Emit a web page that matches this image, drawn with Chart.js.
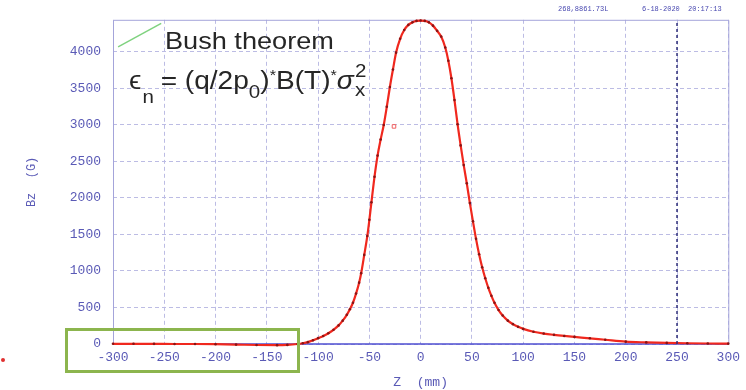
<!DOCTYPE html>
<html>
<head>
<meta charset="utf-8">
<script src="https://cdn.jsdelivr.net/npm/chart.js"></script>
<style>
  html, body { margin: 0; padding: 0; background: #fff; }
  #wrap { position: relative; width: 746px; height: 390px; overflow: hidden; }
  #wrap canvas { position: absolute; left: 0; top: 0; }
  .note { position: absolute; white-space: nowrap; color: #262626; font-family: 'Liberation Sans', Arial, sans-serif; transform-origin: 0 0; }
  .sm { position: relative; font-size: 19px; }
  .stamp { position: absolute; top: 5px; font: 7px 'Liberation Mono', monospace; color: #4848b0; white-space: nowrap; }
</style>
</head>
<body>
<div id="wrap">
  <canvas id="chart" width="746" height="390"></canvas>
  <div class="note" style="left:165px; top:29px; font-size:24px; line-height:24px; transform:scaleX(1.13);">Bush theorem</div>
  <div class="note" style="left:129px; top:67px; font-size:26px; line-height:26px; transform:scaleX(1.08);">ϵ<span class="sm" style="top:14px; left:1px;">n</span> = (q/2p<span class="sm" style="top:9px;">0</span>)<span class="sm" style="top:-9px; font-size:15px;">*</span>B(T)<span class="sm" style="top:-9px; font-size:15px;">*</span><i>σ</i><span style="position:relative; display:inline-block; width:12px; height:10px;"><span class="sm" style="position:absolute; left:1px; top:-21px;">2</span><span class="sm" style="position:absolute; left:1px; top:-2px;">x</span></span></div>
  <div class="stamp" style="left:558px;">268,8861.73L</div>
  <div class="stamp" style="left:642px;">6-18-2020</div>
  <div class="stamp" style="left:688px;">20:17:13</div>
  <div style="position:absolute; left:65px; top:328px; width:229px; height:39px; border:3px solid #8cb54e;"></div>
  <div style="position:absolute; left:1px; top:358px; width:4px; height:4px; border-radius:2px; background:#e03030;"></div>
</div>
<script>
// Z position (mm) and axial field Bz (G)
const zPos = [-300, -280, -260, -240, -220, -200, -180, -160, -140, -130, -120, -115, -110, -105, -100, -95, -90, -85, -80, -76, -72, -69, -66, -63, -60, -58, -55, -52, -50, -48, -45, -42, -39, -36, -33, -30, -27, -24, -20, -16, -12, -8, -4, 0, 4, 8, 12, 16, 20, 24, 27, 30, 33, 36, 39, 42, 45, 48, 51, 54, 57, 60, 63, 66, 69, 72, 76, 80, 85, 90, 95, 100, 110, 120, 130, 140, 150, 165, 180, 200, 220, 240, 260, 280, 300];
const bzVals = [3, 3, 2, 0, 0, -3, -8, -14, -16, -12, 0, 10, 25, 50, 80, 110, 148, 195, 255, 320, 400, 475, 565, 690, 840, 970, 1220, 1480, 1700, 1940, 2290, 2580, 2800, 3000, 3250, 3520, 3760, 3990, 4180, 4300, 4370, 4405, 4425, 4430, 4425, 4405, 4360, 4290, 4210, 4060, 3880, 3640, 3340, 3010, 2720, 2450, 2200, 1930, 1680, 1440, 1230, 1050, 900, 770, 660, 565, 465, 390, 320, 272, 235, 207, 168, 143, 125, 110, 97, 78, 58, 32, 22, 15, 10, 7, 5];

// marker line at z = 250 mm, green stroke in the corner, stray red mark
const markerZ = [250, 250];
const markerBz = [0, 4440];
const greenZ = [-295, -253];
const greenBz = [4070, 4390];
const strayZ = [-26];
const strayBz = [2980];

const zTickVals = [-300, -250, -200, -150, -100, -50, 0, 50, 100, 150, 200, 250, 300];
const bzTickVals = [0, 500, 1000, 1500, 2000, 2500, 3000, 3500, 4000];
const bzMax = 4440;

const pts = (xs, ys) => xs.map((x, i) => ({ x: x, y: ys[i] }));

const frame = {
  id: 'frame',
  beforeDatasetsDraw(chart) {
    const { ctx, chartArea: a } = chart;
    ctx.save();
    ctx.lineWidth = 1;
    ctx.strokeStyle = '#a4a4da';
    ctx.beginPath();
    ctx.moveTo(a.left + 0.5, a.bottom);
    ctx.lineTo(a.left + 0.5, a.top + 0.5);
    ctx.lineTo(a.right + 0.5, a.top + 0.5);
    ctx.lineTo(a.right + 0.5, a.bottom);
    ctx.stroke();
    ctx.strokeStyle = '#4e4ed0';
    ctx.lineWidth = 1.5;
    ctx.beginPath();
    ctx.moveTo(a.left, a.bottom);
    ctx.lineTo(a.right, a.bottom);
    ctx.stroke();
    ctx.restore();
  }
};

const tickFont = { family: "'Liberation Mono', monospace", size: 13 };
const tickColor = '#5a5ab6';
const plain = v => String(v);

new Chart(document.getElementById('chart'), {
  type: 'scatter',
  data: {
    datasets: [
      {
        data: pts(markerZ, markerBz),
        showLine: true,
        borderColor: '#2c2c78',
        borderWidth: 1.5,
        borderDash: [3, 3],
        pointRadius: 0
      },
      {
        data: pts(greenZ, greenBz),
        showLine: true,
        borderColor: '#7fd27f',
        borderWidth: 1.5,
        pointRadius: 0
      },
      {
        data: pts(zPos, bzVals),
        showLine: true,
        borderColor: '#f0281e',
        borderWidth: 2.2,
        pointRadius: 1.3,
        pointBorderWidth: 0,
        pointBackgroundColor: '#8a1414',
        cubicInterpolationMode: 'monotone',
        clip: false
      },
      {
        data: pts(strayZ, strayBz),
        pointStyle: 'rect',
        pointRadius: 2.5,
        pointBorderWidth: 1,
        pointBorderColor: '#f06060',
        pointBackgroundColor: 'rgba(0,0,0,0)'
      }
    ]
  },
  options: {
    responsive: false,
    animation: false,
    devicePixelRatio: 1,
    layout: { padding: { top: 14, right: 17, left: 0, bottom: 0 } },
    plugins: { legend: { display: false }, tooltip: { enabled: false } },
    scales: {
      x: {
        type: 'linear',
        min: zTickVals[0],
        max: zTickVals[zTickVals.length - 1],
        afterFit(s) { s.height = 46; },
        afterBuildTicks(s) { s.ticks = zTickVals.map(v => ({ value: v })); },
        ticks: { color: tickColor, font: tickFont, padding: 6, maxRotation: 0, autoSkip: false, callback: plain },
        grid: { color: '#bcbce4', drawTicks: false },
        border: { display: false, dash: [4, 3] },
        title: { display: true, text: 'Z  (mm)', color: tickColor, font: tickFont, padding: { top: 4, bottom: 0 } }
      },
      y: {
        type: 'linear',
        min: bzTickVals[0],
        max: bzMax,
        afterFit(s) { s.width = 113; },
        afterBuildTicks(s) { s.ticks = bzTickVals.map(v => ({ value: v })); },
        ticks: { color: tickColor, font: tickFont, padding: 12, autoSkip: false, callback: plain },
        grid: { color: '#bcbce4', drawTicks: false },
        border: { display: false, dash: [4, 3] },
        title: { display: true, text: 'Bz  (G)', color: tickColor, font: { family: "'Liberation Mono', monospace", size: 12 }, padding: { top: 25, bottom: 0 } }
      }
    }
  },
  plugins: [frame]
});
</script>
</body>
</html>
